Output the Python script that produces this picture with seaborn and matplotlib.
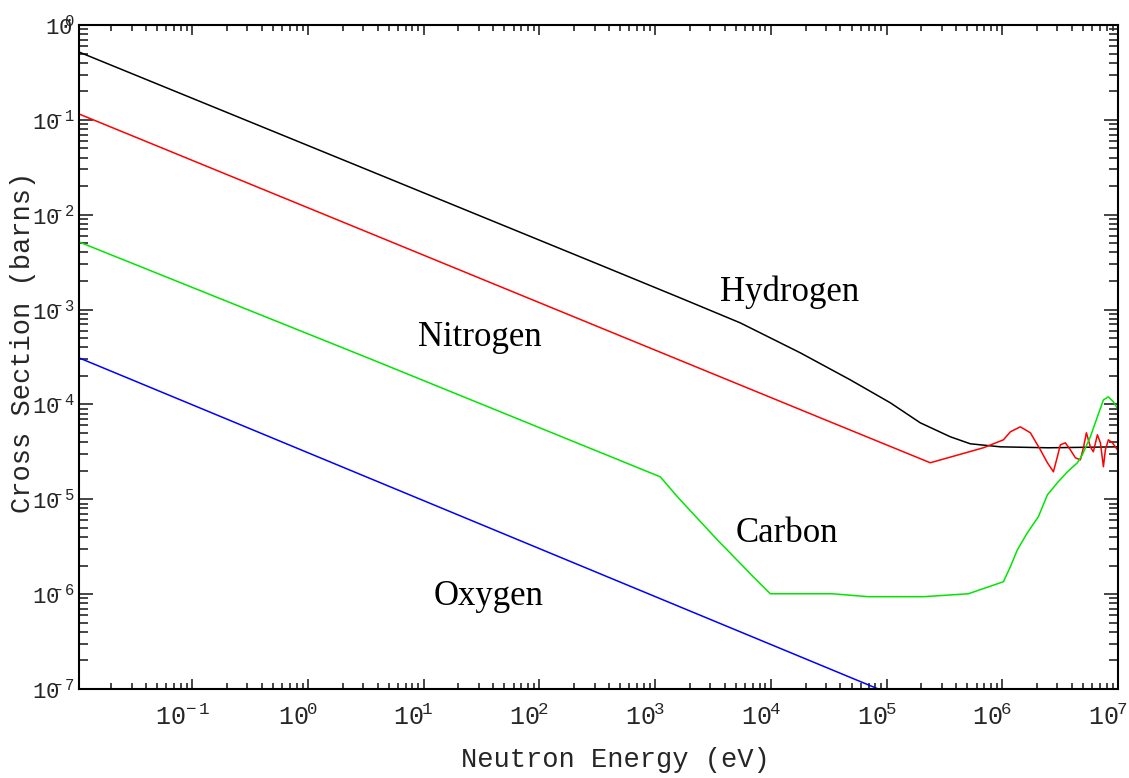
import numpy as np
import pandas as pd
import matplotlib
matplotlib.use('Agg')
import matplotlib.pyplot as plt
import matplotlib.transforms as mtransforms
from matplotlib.ticker import FixedLocator, LogLocator, FuncFormatter, NullFormatter
import seaborn as sns

h_log_e = [-1.977, 0.538, 2.526, 3.218, 3.736, 4.255, 4.687, 5.033, 5.292, 5.551, 5.724, 5.984, 6.400, 7.000]
h_log_s = [-0.285, -1.538, -2.530, -2.877, -3.140, -3.456, -3.741, -3.983, -4.194, -4.341, -4.415, -4.447, -4.457, -4.447]

n_log_e = [-1.977, 0.538, 2.526, 3.736, 4.540, 5.378, 5.837, 6.010, 6.070, 6.156, 6.243, 6.329,
           6.390, 6.442, 6.476, 6.502, 6.545, 6.588, 6.632, 6.675, 6.701, 6.727, 6.761, 6.787,
           6.822, 6.848, 6.874, 6.891, 6.917, 6.952, 6.995]
n_log_s = [-0.938, -2.195, -3.190, -3.795, -4.197, -4.615, -4.457, -4.373, -4.289, -4.236, -4.299, -4.478,
           -4.615, -4.710, -4.552, -4.426, -4.405, -4.478, -4.563, -4.584, -4.457, -4.299, -4.447, -4.499,
           -4.320, -4.405, -4.657, -4.478, -4.373, -4.405, -4.478]

c_log_e = [-1.977, 0.538, 3.045, 3.201, 3.538, 3.849, 3.996, 4.532, 4.843, 5.318, 5.707,
           6.010, 6.070, 6.131, 6.217, 6.312, 6.390, 6.476, 6.563, 6.649, 6.692, 6.761, 6.822,
           6.874, 6.917, 6.960, 7.003]
c_log_s = [-2.287, -3.519, -4.763, -4.984, -5.427, -5.817, -5.996, -5.996, -6.027, -6.027, -5.996,
           -5.869, -5.711, -5.532, -5.353, -5.184, -4.953, -4.826, -4.710, -4.615, -4.531, -4.341, -4.131,
           -3.952, -3.920, -3.973, -4.057]

o_log_e = [-1.977, 2.699, 4.929]
o_log_s = [-3.509, -5.873, -7.000]

elements = ['Hydrogen', 'Nitrogen', 'Carbon', 'Oxygen']
colors = ['#000000', '#ff0000', '#00e600', '#0000ff']

# decade exponents that carry a tick label
x_tick_exps = [-1, 0, 1, 2, 3, 4, 5, 6, 7]
y_tick_exps = [-7, -6, -5, -4, -3, -2, -1, 0]

# label anchors (left, baseline) as log10 values
label_pos = {'Hydrogen': (3.564, -2.908), 'Nitrogen': (0.953, -3.383),
             'Carbon': (3.693, -5.448), 'Oxygen': (1.083, -6.112)}

frames = []
for name, le, ls in zip(elements, [h_log_e, n_log_e, c_log_e, o_log_e],
                        [h_log_s, n_log_s, c_log_s, o_log_s]):
    frames.append(pd.DataFrame({'element': name,
                                'energy': 10.0 ** np.array(le),
                                'sigma': 10.0 ** np.array(ls)}))
df = pd.concat(frames, ignore_index=True)

sns.set_style('ticks')
plt.rcParams['font.family'] = ['Liberation Mono', 'DejaVu Sans']
plt.rcParams['mathtext.fontset'] = 'custom'
plt.rcParams['mathtext.rm'] = 'Liberation Mono'
plt.rcParams['mathtext.it'] = 'Liberation Mono'

fig = plt.figure(figsize=(11.29, 7.78), dpi=100)
ax = fig.add_axes([79 / 1129, 1 - 689 / 778, (1118 - 79) / 1129, (689 - 25) / 778])
ax.set_xscale('log')
ax.set_yscale('log')

sns.lineplot(data=df, x='energy', y='sigma', hue='element',
             palette=dict(zip(elements, colors)), estimator=None, sort=False,
             legend=False, linewidth=1.1, ax=ax)

for name in elements:
    lx, ly = label_pos[name]
    ax.text(10 ** lx, 10 ** ly, name, family='Liberation Serif', fontsize=25,
            ha='left', va='baseline', color='black')

ax.set_xlim(10 ** -1.977, 1e7)
ax.set_ylim(1e-7, 1)

# exponent tucked over the "0" like the original bitmap labels
xfmt = FuncFormatter(lambda v, p: r'$10^{\!%d}$' % int(round(np.log10(v))))
yfmt = FuncFormatter(lambda v, p: r'$10^{\!\!\!\!\!%d}$' % int(round(np.log10(v))))
for axis, fmt, exps in ((ax.xaxis, xfmt, x_tick_exps), (ax.yaxis, yfmt, y_tick_exps)):
    axis.set_major_locator(FixedLocator([10.0 ** e for e in exps]))
    axis.set_minor_locator(LogLocator(base=10, subs=np.arange(2, 10), numticks=100))
    axis.set_major_formatter(fmt)
    axis.set_minor_formatter(NullFormatter())

ax.tick_params(which='both', direction='in', top=True, right=True, width=1.2)
ax.tick_params(axis='x', which='major', length=7, pad=11, labelsize=18)
ax.tick_params(axis='x', which='minor', length=4.3)
ax.tick_params(axis='y', which='major', length=10, pad=3, labelsize=16)
ax.tick_params(axis='y', which='minor', length=6.5)
for sp in ax.spines.values():
    sp.set_linewidth(1.5)
    sp.set_color('black')

offset = mtransforms.ScaledTranslation(-0.10, 0, fig.dpi_scale_trans)
for lab in ax.get_xticklabels():
    lab.set_transform(lab.get_transform() + offset)

ax.set_xlabel('Neutron Energy (eV)', fontsize=19.5)
ax.set_ylabel('Cross Section (barns)', fontsize=19.5)
ax.xaxis.set_label_coords((615 - 79) / 1039, -0.087)
ax.yaxis.set_label_coords(-0.0414, 0.5226)

fig.savefig('out.png', dpi=100, facecolor='white')
